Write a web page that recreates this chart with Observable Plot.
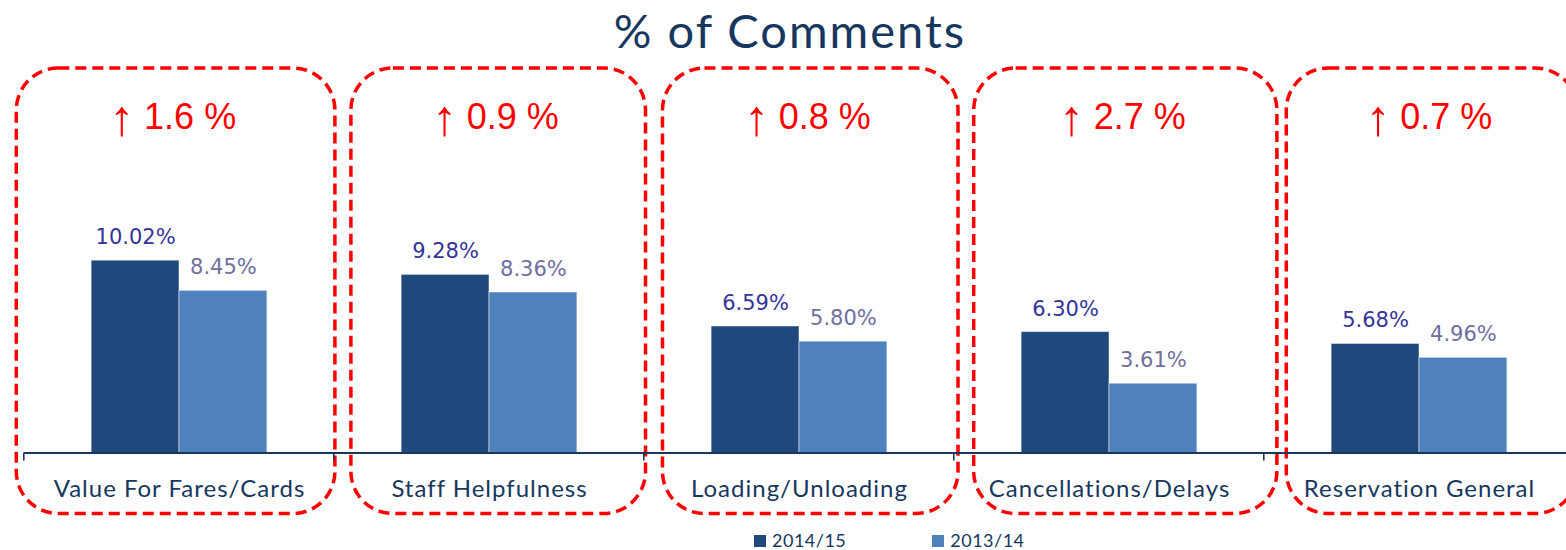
<!DOCTYPE html>
<html><head><meta charset="utf-8">
<script src="https://cdn.jsdelivr.net/npm/d3@7"></script>
<script src="https://cdn.jsdelivr.net/npm/@observablehq/plot@0.6"></script>
<style>
html,body{margin:0;padding:0;background:#fff;overflow:hidden;width:1566px;height:550px}
#wrap{position:relative;width:1566px;height:550px;overflow:hidden}
#chart{position:absolute;left:0;top:0}
#title{position:absolute;top:7px;left:790px;transform:translateX(-50%);font-family:Lato,sans-serif;font-size:47px;letter-spacing:2px;color:#17375E;white-space:nowrap;line-height:1}
#legend{position:absolute;top:532px;left:754px;display:flex;align-items:center;font-family:Lato,sans-serif;font-size:18px;line-height:17px;letter-spacing:0.5px;color:#17375E}
#legend .item{display:flex;align-items:center}
#legend .sw{width:12px;height:12px;margin-right:6px}
#legend .item + .item{margin-left:86px}
g[aria-description="category labels"] text{letter-spacing:1px}
</style></head><body>
<div id="wrap"><div id="chart"></div><div id="title">% of Comments</div><div id="legend"></div></div>
<script>
const categories = ["Value For Fares/Cards","Staff Helpfulness","Loading/Unloading","Cancellations/Delays","Reservation General"];
const series = ["2014/15","2013/14"];
const values2014 = [10.02, 9.28, 6.59, 6.30, 5.68];
const values2013 = [8.45, 8.36, 5.80, 3.61, 4.96];
const changes = [1.6, 0.9, 0.8, 2.7, 0.7];

const barColors = ["#1F497D","#4F81BD"];
const labelColors = ["#34349A","#6F6F9F"];
const navy = "#17375E";
const red = "#FF0000";
const boxInsets = [[-7.7,-0.9],[16.9,-1.5],[18.5,-4],[19.7,-12.9],[22.3,-3.2]];

const W = 1576, H = 550, ML = 22.7, MR = 1.2, MT = 68, MB = 97.5;
const step = (W - ML - MR) / categories.length;

const rows = categories.flatMap((c, i) => [
  {cat: c, series: series[0], value: values2014[i]},
  {cat: c, series: series[1], value: values2013[i]}
]);

const marks = [];
categories.forEach((c, i) => {
  const [l, r] = boxInsets[i];
  const center = (l - r) / 2;
  marks.push(Plot.rect([c], {fx: d => d, insetLeft: l, insetRight: r, insetBottom: -61,
    fill: "none", stroke: red, strokeWidth: 3.5, strokeDasharray: "11,6", rx: 42}));
  marks.push(Plot.text([changes[i]], {fx: () => c, text: () => "↑", frameAnchor: "top", lineAnchor: "bottom",
    dy: 66, dx: center - 54, fill: red, fontSize: 50, fontFamily: "Liberation Sans, Arial, sans-serif"}));
  marks.push(Plot.text([changes[i]], {fx: () => c, text: d => d.toFixed(1) + " %", frameAnchor: "top", lineAnchor: "bottom",
    textAnchor: "start", dy: 60, dx: center - 32, fill: red, fontSize: 36, fontFamily: "Liberation Sans, Arial, sans-serif"}));
});
marks.push(Plot.barY(rows, {fx: "cat", x: "series", y: "value", fill: "series",
  stroke: "#ffffff", strokeOpacity: 0.5, strokeWidth: 1}));
marks.push(Plot.ruleY([0], {stroke: navy, strokeWidth: 2}));
marks.push(Plot.rect(categories, {fx: d => d, insetTop: H - MT - MB, insetBottom: -8,
  insetLeft: -1, insetRight: step - 1, fill: navy}));
series.forEach((s, k) => {
  marks.push(Plot.text(rows.filter(d => d.series === s), {fx: "cat", x: "series", y: "value",
    text: d => d.value.toFixed(2) + "%", lineAnchor: "bottom", dy: -16.5,
    fill: labelColors[k], fontSize: 21, fontFamily: "DejaVu Sans, Verdana, sans-serif"}));
});
marks.push(Plot.text(categories, {fx: d => d, text: d => d, frameAnchor: "bottom", lineAnchor: "bottom",
  dy: 43.5, fill: navy, fontSize: 24, fontFamily: "Lato, sans-serif", ariaDescription: "category labels"}));

const chart = Plot.plot({
  width: W, height: H, marginLeft: ML, marginRight: MR, marginTop: MT, marginBottom: MB,
  fx: {domain: categories, padding: 0, axis: null, label: null},
  x: {domain: series, paddingInner: 0, paddingOuter: 0.7636, round: false, axis: null},
  y: {domain: [0, 20.03], axis: null},
  color: {domain: series, range: barColors},
  style: {background: "transparent", overflow: "visible", maxWidth: "none"},
  marks
});
document.getElementById("chart").appendChild(chart);

const legend = document.getElementById("legend");
series.forEach((s, k) => {
  const item = document.createElement("div");
  item.className = "item";
  const sw = document.createElement("span");
  sw.className = "sw";
  sw.style.background = barColors[k];
  const t = document.createElement("span");
  t.textContent = s;
  item.appendChild(sw); item.appendChild(t);
  legend.appendChild(item);
});
</script>
</body></html>
